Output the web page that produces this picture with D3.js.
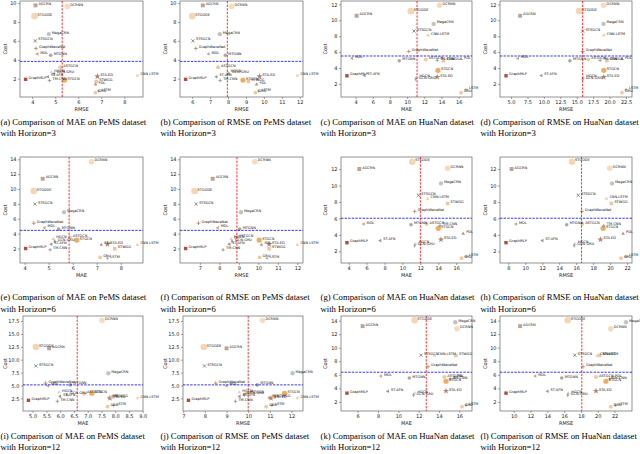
<!DOCTYPE html>
<html lang="en">
<head>
    <meta charset="UTF-8">
    <title>Accuracy vs Cost</title>
    <script src="https://d3js.org/d3.v7.min.js"></script>
    <style>
        body { margin: 0; background: #fff; }
        svg { display: block; }
        .axis-label { font-family: "DejaVu Sans", sans-serif; font-size: 5px; fill: #222; text-anchor: middle; }
        .pt-label { font-family: "DejaVu Sans", sans-serif; font-size: 3.5px; fill: #111; }
        .caption { font-family: "Liberation Serif", "Times New Roman", serif; font-size: 8.7px; fill: #000; }
    </style>
</head>
<body>
<svg id="chart" width="640" height="454"></svg>
<script>
    // Models (same order in every value array below)
    const models = ["AGCRN", "DCRNN", "STGODE", "STSGCN", "MegaCRN", "GraphWaveNet", "MDL", "MTGNN",
        "ASTGCN", "GraphMLP", "STA-ED", "STWGG", "PDL", "CNN-LSTM", "GRU", "LSTM", "STGCN",
        "HGCN", "GCN-GRU", "ST-AFN", "TM-CNN"];

    // PeMS, horizon 3
    const costPems3 = [9.76, 9.66, 8.62, 6.0, 6.72, 5.2, 4.62, 4.48, 3.2, 1.93, 2.24, 1.7, 1.4, 2.34, 0.52, 0.69, 1.85, 2.69, 2.52, 2.2, 1.8];
    const maePems3 = [4.14, 5.52, 4.1, 4.13, 4.72, 4.16, 4.22, 4.8, 5.22, 3.71, 6.83, 6.78, 6.75, 8.57, 6.74, 6.88, 5.4, 4.83, 4.95, 4.68, 4.75];
    const rmsePems3 = [6.59, 8.19, 6.0, 6.04, 7.54, 6.2, 6.91, 7.85, 7.44, 5.63, 9.76, 9.13, 9.59, 11.87, 9.52, 9.7, 8.83, 7.98, 8.05, 7.35, 7.56];

    // HuaNan, horizon 3
    const costHuanan3 = [10.57, 11.88, 11.15, 8.65, 9.55, 6.08, 5.22, 4.9, 5.08, 3.02, 2.86, 4.92, 5.14, 8.12, 0.9, 1.27, 3.71, 2.78, 2.6, 3.06, 4.96];
    const maeHuanan3 = [4.12, 13.77, 10.42, 10.8, 13.08, 10.19, 3.58, 9.08, 12.15, 3.0, 13.5, 14.23, 16.27, 12.42, 16.27, 16.85, 13.58, 11.08, 11.0, 5.04, 13.5];
    const rmseHuanan3 = [6.38, 19.07, 15.39, 15.9, 19.07, 15.9, 6.02, 13.96, 16.77, 4.23, 19.12, 19.59, 21.89, 19.12, 21.89, 22.5, 19.12, 16.0, 15.9, 9.6, 18.56];

    // PeMS, horizon 6
    const costPems6 = [11.38, 13.66, 9.73, 7.98, 6.87, 5.41, 4.78, 4.63, 3.5, 2.0, 2.57, 1.96, 2.5, 2.5, 0.8, 0.7, 3.13, 3.3, 2.98, 2.59, 1.82];
    const maePems6 = [4.75, 6.78, 4.38, 4.43, 5.64, 4.38, 4.83, 5.42, 5.88, 4.04, 7.44, 7.75, 7.19, 8.69, 7.14, 7.44, 6.17, 5.19, 5.25, 5.11, 5.06];
    const rmsePems6 = [7.66, 9.82, 6.73, 6.81, 9.11, 6.93, 7.92, 9.04, 8.84, 6.27, 10.55, 10.55, 10.16, 12.0, 10.06, 10.44, 10.04, 8.6, 8.65, 8.51, 8.19];

    // HuaNan, horizon 6
    const costHuanan6 = [12.0, 12.09, 12.87, 8.81, 10.25, 6.85, 5.32, 5.23, 5.32, 3.05, 3.44, 7.81, 4.14, 8.38, 1.17, 1.39, 4.8, 2.92, 2.7, 3.31, 5.1];
    const maeHuanan6 = [5.19, 15.04, 11.1, 11.78, 14.3, 11.37, 5.67, 10.96, 12.7, 3.81, 14.3, 15.04, 16.78, 12.81, 16.59, 17.1, 14.0, 11.48, 11.37, 7.52, 14.2];
    const rmseHuanan6 = [8.39, 19.95, 15.5, 16.24, 20.23, 16.67, 8.9, 14.88, 16.71, 7.73, 18.86, 20.15, 21.52, 19.56, 21.28, 21.87, 19.17, 15.85, 15.77, 12.02, 19.25];

    // PeMS, horizon 12
    const costPems12 = [12.2, 17.62, 12.45, 8.79, 7.36, 5.46, 4.93, 5.12, 3.38, 2.13, 2.55, 2.75, 2.62, 2.57, 0.9, 1.13, 3.5, 3.69, 3.19, 2.88, 1.94];
    const maePems12 = [5.6, 7.52, 5.12, 5.12, 7.75, 5.47, 5.56, 6.37, 6.87, 4.85, 7.81, 7.87, 7.78, 8.81, 7.72, 7.94, 7.15, 5.96, 6.25, 6.0, 5.9];
    const rmsePems12 = [9.0, 10.66, 7.95, 7.98, 12.05, 8.5, 9.0, 10.42, 9.92, 7.24, 11.05, 11.2, 10.97, 12.28, 10.83, 11.1, 11.68, 9.59, 9.82, 9.6, 9.41];

    // HuaNan, horizon 12
    const costHuanan12 = [13.19, 12.81, 14.05, 8.9, 13.76, 7.19, 5.81, 5.52, 5.67, 3.29, 3.62, 8.86, 5.57, 8.86, 1.29, 1.5, 5.05, 3.29, 3.0, 3.57, 5.38];
    const maeHuanan12 = [6.49, 15.77, 11.6, 12.23, 15.6, 12.92, 8.3, 11.08, 14.52, 4.95, 14.69, 15.67, 15.5, 13.57, 16.26, 16.66, 14.69, 11.6, 11.5, 8.98, 15.1];
    const rmseHuanan12 = [10.76, 21.55, 16.43, 17.27, 23.36, 18.24, 12.56, 15.71, 19.79, 9.08, 19.79, 20.21, 21.7, 19.92, 21.55, 22.1, 20.97, 16.5, 16.43, 14.03, 21.39];

    // Mean reference lines, panels (a)..(l)
    const vlines = [5.3, 7.96, 11.15, 15.9, 5.85, 8.9, 12.0, 16.63, 6.62, 10.0, 12.75, 18.1];
    const hlines = [3.83, 3.83, 5.51, 5.51, 4.44, 4.44, 6.02, 6.02, 5.12, 5.12, 6.38, 6.38];

    // Tick values
    const xTicks = [
        [4, 5, 6, 7, 8], [6, 7, 8, 9, 10, 11, 12], [4, 6, 8, 10, 12, 14, 16], [5, 7.5, 10, 12.5, 15, 17.5, 20, 22.5],
        [4, 5, 6, 7, 8], [7, 8, 9, 10, 11, 12], [4, 6, 8, 10, 12, 14, 16], [8, 10, 12, 14, 16, 18, 20, 22],
        [5, 5.5, 6, 6.5, 7, 7.5, 8, 8.5, 9], [7, 8, 9, 10, 11, 12], [6, 8, 10, 12, 14, 16], [10, 12, 14, 16, 18, 20, 22]
    ];
    const yTicksPems3 = [2, 4, 6, 8, 10];
    const yTicksHuanan3 = [2, 4, 6, 8, 10, 12];
    const yTicksPems6 = [2, 4, 6, 8, 10, 12, 14];
    const yTicksHuanan6 = [2, 4, 6, 8, 10, 12];
    const yTicksPems12 = [2.5, 5, 7.5, 10, 12.5, 15, 17.5];
    const yTicksHuanan12 = [2, 4, 6, 8, 10, 12, 14];

    // Marker style per model
    const markerType = ["square", "circle", "circle", "x", "circle", "plus", "triLeft", "circle", "circle", "square",
        "star", "square", "triUp", "circle", "circle", "plus", "circle", "triUp", "diamond", "triLeft", "plus"];
    const markerColor = ["#b59a8c", "#f7d6b6", "#f5d0a9", "#4d4d4d", "#bdbdbd", "#a8674c", "#c89a78", "#9e9e9e",
        "#f1c48f", "#a63a2c", "#a87766", "#e6c29a", "#a38f82", "#f5cfa8", "#f2c38e", "#8a8a8a", "#f0a34a",
        "#cfcfcf", "#9a9a9a", "#8c8c8c", "#7a7a7a"];
    const markerR = [2.2, 2.8, 3.3, 2.0, 2.2, 2.0, 1.8, 1.8, 2.0, 1.9, 2.0, 2.0, 1.8, 1.5, 1.9, 1.7, 2.6, 1.8, 1.7, 1.8, 1.8];

    const panels = [
        { tag: "a", metric: "MAE", ds: "PeMS", hz: 3, xlab: "RMSE", xs: maePems3, ys: costPems3, yt: yTicksPems3 },
        { tag: "b", metric: "RMSE", ds: "PeMS", hz: 3, xlab: "RMSE", xs: rmsePems3, ys: costPems3, yt: yTicksPems3 },
        { tag: "c", metric: "MAE", ds: "HuaNan", hz: 3, xlab: "MAE", xs: maeHuanan3, ys: costHuanan3, yt: yTicksHuanan3 },
        { tag: "d", metric: "RMSE", ds: "HuaNan", hz: 3, xlab: "RMSE", xs: rmseHuanan3, ys: costHuanan3, yt: yTicksHuanan3 },
        { tag: "e", metric: "MAE", ds: "PeMS", hz: 6, xlab: "MAE", xs: maePems6, ys: costPems6, yt: yTicksPems6 },
        { tag: "f", metric: "RMSE", ds: "PeMS", hz: 6, xlab: "RMSE", xs: rmsePems6, ys: costPems6, yt: yTicksPems6 },
        { tag: "g", metric: "MAE", ds: "HuaNan", hz: 6, xlab: "MAE", xs: maeHuanan6, ys: costHuanan6, yt: yTicksHuanan6 },
        { tag: "h", metric: "RMSE", ds: "HuaNan", hz: 6, xlab: "RMSE", xs: rmseHuanan6, ys: costHuanan6, yt: yTicksHuanan6 },
        { tag: "i", metric: "MAE", ds: "PeMS", hz: 12, xlab: "MAE", xs: maePems12, ys: costPems12, yt: yTicksPems12 },
        { tag: "j", metric: "RMSE", ds: "PeMS", hz: 12, xlab: "RMSE", xs: rmsePems12, ys: costPems12, yt: yTicksPems12 },
        { tag: "k", metric: "MAE", ds: "HuaNan", hz: 12, xlab: "MAE", xs: maeHuanan12, ys: costHuanan12, yt: yTicksHuanan12 },
        { tag: "l", metric: "RMSE", ds: "HuaNan", hz: 12, xlab: "RMSE", xs: rmseHuanan12, ys: costHuanan12, yt: yTicksHuanan12 }
    ];

    // Layout
    const colLeft = [20, 180, 341, 500];
    const colRight = [143, 303, 472, 632];
    const rowTop = [1, 157, 316];
    const rowFrameH = [96, 106, 95];
    const captionY = [124.5, 300, 438.5];

    const svg = d3.select("#chart");

    // matplotlib-like 5% margins
    const pad = ext => {
        const r = ext[1] - ext[0];
        return [ext[0] - 0.05 * r, ext[1] + 0.05 * r];
    };

    function markerPath(type, r) {
        switch (type) {
            case "square": return d3.symbol(d3.symbolSquare, 4 * r * r * 0.8)();
            case "star": return d3.symbol(d3.symbolStar, Math.PI * r * r)();
            case "diamond": return d3.symbol(d3.symbolDiamond, 2 * r * r)();
            case "triUp":
            case "triLeft": return d3.symbol(d3.symbolTriangle, 1.8 * r * r)();
            case "plus": return `M${-r},0H${r}M0,${-r}V${r}`;
            case "x": return `M${-r * 0.8},${-r * 0.8}L${r * 0.8},${r * 0.8}M${-r * 0.8},${r * 0.8}L${r * 0.8},${-r * 0.8}`;
            default: return d3.symbol(d3.symbolCircle, Math.PI * r * r)();
        }
    }
    const stroked = t => t === "plus" || t === "x";

    panels.forEach((p, i) => {
        const col = i % 4, row = Math.floor(i / 4);
        const left = colLeft[col] + (row === 2 && col < 2 ? 3 : 0);
        const right = colRight[col];
        const top = rowTop[row], bottom = top + rowFrameH[row];

        const x = d3.scaleLinear().domain(pad(d3.extent(p.xs))).range([left, right]);
        const y = d3.scaleLinear().domain(pad(d3.extent(p.ys))).range([bottom, top]);

        const g = svg.append("g");

        const xFmt = xTicks[i].some(v => v % 1 !== 0) ? d3.format(".1f") : d3.format("d");
        const yFmt = p.yt.some(v => v % 1 !== 0) ? d3.format(".1f") : d3.format("d");

        const xAxis = g.append("g")
            .attr("transform", `translate(0,${bottom})`)
            .call(d3.axisBottom(x).tickValues(xTicks[i]).tickFormat(xFmt).tickSize(2).tickPadding(1.5));
        const yAxis = g.append("g")
            .attr("transform", `translate(${left},0)`)
            .call(d3.axisLeft(y).tickValues(p.yt).tickFormat(yFmt).tickSize(2).tickPadding(1.5));
        [xAxis, yAxis].forEach(a => {
            a.attr("font-family", "DejaVu Sans").attr("font-size", 5);
            a.select(".domain").remove();
            a.selectAll(".tick line").attr("stroke", "#444").attr("stroke-width", 0.5);
            a.selectAll(".tick text").attr("fill", "#222");
        });

        // Frame
        g.append("rect")
            .attr("x", left).attr("y", top)
            .attr("width", right - left).attr("height", bottom - top)
            .attr("fill", "none").attr("stroke", "#666").attr("stroke-width", 0.7);

        // Points
        g.selectAll(".pt")
            .data(models)
            .enter().append("path")
            .attr("class", "pt")
            .attr("transform", (d, k) => `translate(${x(p.xs[k])},${y(p.ys[k])})` +
                (markerType[k] === "triLeft" ? " rotate(-90)" : ""))
            .attr("d", (d, k) => markerPath(markerType[k], markerR[k]))
            .attr("fill", (d, k) => stroked(markerType[k]) ? "none" : markerColor[k])
            .attr("stroke", (d, k) => stroked(markerType[k]) ? markerColor[k] : "none")
            .attr("stroke-width", 0.7)
            .attr("opacity", 0.9);

        // Mean lines (above the markers, like axvline/axhline)
        g.append("line")
            .attr("x1", x(vlines[i])).attr("x2", x(vlines[i]))
            .attr("y1", top).attr("y2", bottom)
            .attr("stroke", "#ff0000").attr("stroke-width", 0.8).attr("stroke-dasharray", "2.4,1.2");
        g.append("line")
            .attr("x1", left).attr("x2", right)
            .attr("y1", y(hlines[i])).attr("y2", y(hlines[i]))
            .attr("stroke", "#0000ff").attr("stroke-width", 0.8).attr("stroke-dasharray", "2.4,1.2");

        // Point labels
        g.selectAll(".pt-label")
            .data(models)
            .enter().append("text")
            .attr("class", "pt-label")
            .attr("x", (d, k) => x(p.xs[k]) + 3)
            .attr("y", (d, k) => y(p.ys[k]) - 0.4)
            .text(d => p.ds === "PeMS" && d === "CNN-LSTM" ? "CNN LSTM" : d);

        // Axis labels
        g.append("text")
            .attr("class", "axis-label")
            .attr("x", (left + right) / 2)
            .attr("y", bottom + 14)
            .text(p.xlab);
        g.append("text")
            .attr("class", "axis-label")
            .attr("transform", `translate(${col * 160 + 7},${(top + bottom) / 2}) rotate(-90)`)
            .text("Cost");

        // Caption
        const cx = col * 160 + 0.5;
        g.append("text")
            .attr("class", "caption")
            .attr("x", cx).attr("y", captionY[row])
            .text(`(${p.tag}) Comparison of ${p.metric} on ${p.ds} dataset`);
        g.append("text")
            .attr("class", "caption")
            .attr("x", cx).attr("y", captionY[row] + 11.5)
            .text(`with Horizon=${p.hz}`);
    });
</script>
</body>
</html>
